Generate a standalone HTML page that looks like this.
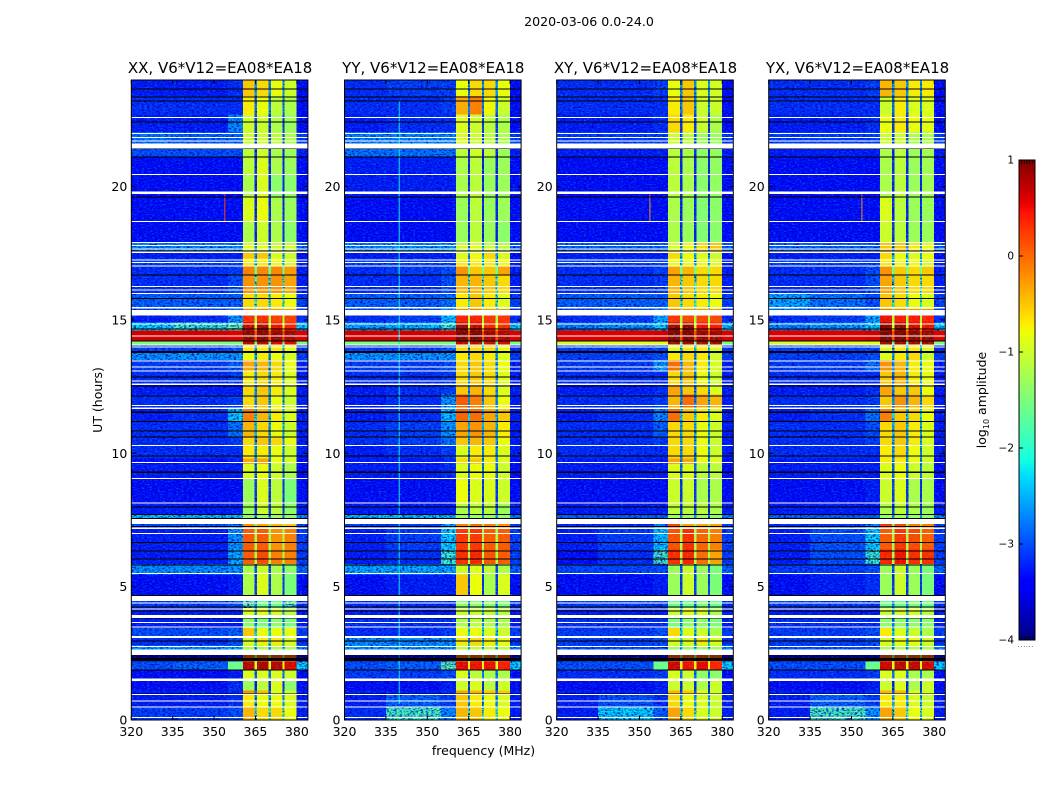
<!DOCTYPE html>
<html lang="en">
<head>
<meta charset="utf-8">
<title>2020-03-06 0.0-24.0 amplitude waterfall</title>
<style>
html,body{margin:0;padding:0;background:#fff;}
svg{display:block;}
text{font-family:"DejaVu Sans","Liberation Sans",sans-serif;fill:#000;}
</style>
</head>
<body>
<svg id="figure" xmlns="http://www.w3.org/2000/svg" width="1050" height="800" viewBox="0 0 1050 800">
<defs>
<filter id="speckle-dark" x="0" y="0" width="100%" height="100%" color-interpolation-filters="sRGB">
<feTurbulence type="fractalNoise" baseFrequency="0.38 0.7" numOctaves="2" seed="4"/>
<feColorMatrix type="matrix" values="0 0 0 0 0  0 0 0 0 0  0 0 0 0 0.75  3 0 0 0 -1.3"/>
</filter>
<filter id="speckle-light" x="0" y="0" width="100%" height="100%" color-interpolation-filters="sRGB">
<feTurbulence type="fractalNoise" baseFrequency="0.38 0.7" numOctaves="2" seed="11"/>
<feColorMatrix type="matrix" values="0 0 0 0 0  0 0 0 0 0.6  0 0 0 0 1  2.6 0 0 0 -1.25"/>
</filter>
<filter id="speckle-warm" x="0" y="0" width="100%" height="100%" color-interpolation-filters="sRGB">
<feTurbulence type="fractalNoise" baseFrequency="0.38 0.7" numOctaves="2" seed="23"/>
<feColorMatrix type="matrix" values="0 0 0 0 0.5  0 0 0 0 0.95  0 0 0 0 0.25  2.6 0 0 0 -1.25"/>
</filter>
</defs>
</svg>
<script>
// ---- chart data (log10 amplitude) ----
const panelNames = ["XX", "YY", "XY", "YX"];
const baselineLabel = "V6*V12=EA08*EA18";
const freqTicks = [320, 335, 350, 365, 380];
const hourTicks = [0, 5, 10, 15, 20];
const colorbarTicks = [1, 0, -1, -2, -3, -4];

// lower edge (hours) of each time band
const bandStarts = [0,.5,1,1.1,1.55,1.9,2.2,2.65,2.8,3.15,3.45,3.8,4.2,4.65,5.45,5.85,6.4,7.2,7.55,7.7,8.1,9.06,9.6,9.8,10.3,10.6,11.2,11.7,12.2,12.6,13.1,13.5,13.8,14.05,14.2,14.6,14.9,15.4,16,16.7,17,17.3,17.55,17.9,18.7,19.6,20.5,21.1,21.6,22.05,22.7,23.4];
// frequency edges (MHz) of the channel groups
const channelEdges = [320,335,355,360.4,364.7,365.5,369.8,370.6,374.8,375.6,379.9,384];

// per band: low-band, mid-band, band-edge, sub-band 1..4
const levelsXX = [
[-2.8,-2.8,-2.7,-.4,-.6,-.6,-.8],[-3,-3,-2.9,-.7,-.8,-.8,-.9],[-3,-3,-2.9,-.2,-.4,-.9,-1],[-3.1,-3.1,-2.9,-1.3,-1.1,-.9,-1.4],
[-3.1,-3.1,-3,-.9,-.9,-.9,-1],[-2.7,-2.6,-1.6,.75,.8,.75,.6],[-3.3,-3.3,-3,.1,.1,.1,.1],[-2.3,-2.3,-2.2,-1.2,-1.2,-1.2,-1.2],
[-2.9,-2.9,-2.7,-.9,-.7,-.7,-.9],[-2.7,-2.7,-2.6,-.5,-.8,-.8,-.8],[-3,-3,-3,-1.4,-1.5,-1.4,-1.5],[-3,-3,-3,-.9,-.8,-.9,-1.1],
[-2.8,-2.8,-2.7,-1.7,-1.6,-1.6,-1.7],[-3.1,-3.1,-3,-1.2,-.9,-1.2,-1.5],[-2.35,-2.35,-2.3,-1.2,-1,-1.2,-1.4],[-3,-3,-2.2,.1,.2,-.1,-.1],
[-3,-3,-2.3,.1,.1,-.2,-.1],[-2.7,-2.7,-2.4,-.2,-.3,-.4,-.5],[-2.1,-2.1,-2.1,-1.4,-1.3,-1.3,-1.4],[-3,-3,-3,-1.3,-1,-1.1,-1.4],
[-3.1,-3.1,-3.1,-1.3,-.9,-1.1,-1.5],[-3,-3,-3,-.9,-.8,-1,-1.2],[-3.1,-3.1,-3,-.3,-.3,-.8,-1],[-2.9,-2.9,-2.9,-.7,-.7,-.8,-1],
[-2.9,-2.9,-2.8,-.6,-.5,-.6,-.8],[-2.9,-2.9,-2.5,-.4,-.6,-.8,-1],[-3,-2.9,-2,-.1,-.4,-.7,-.9],[-2.9,-2.9,-2.8,-.6,-.5,-.8,-1],
[-3,-3,-3,-.6,-.5,-.7,-.9],[-2.9,-2.9,-2.8,-.7,-.6,-.7,-.9],[-2.8,-2.8,-2.6,-.3,-.4,-.6,-.8],[-2.35,-2.3,-2.3,-.8,-.7,-.8,-.9],
[-2.8,-2.8,-2.6,-.7,-.7,-.7,-.8],[-1.5,-1.5,-1.5,.7,.7,.6,.6],[.65,.65,.6,.95,.95,.9,.85],[-2,-1.9,-1.7,.7,.8,.5,.4],
[-3,-2.9,-2.3,.35,.35,.25,.25],[-2.6,-2.6,-2.6,-.6,-.6,-.7,-.8],[-2.9,-2.9,-2.7,-.2,-.2,-.2,-.3],[-2.9,-2.9,-2.8,-.1,-.15,-.15,-.25],
[-2.8,-2.8,-2.8,-.7,-.7,-.8,-.9],[-3,-3,-3,-.5,-.5,-.9,-1],[-2.4,-2.4,-2.4,-.9,-.9,-1,-1],[-3.1,-3.1,-3.1,-1.2,-1,-1.2,-1.4],
[-3.1,-3.1,-3.1,-.9,-.8,-1.2,-1.3],[-3.1,-3.1,-3.1,-1.2,-.9,-1.4,-1.4],[-3.1,-3.1,-3.1,-1.1,-.9,-1.2,-1.3],[-2.7,-2.7,-2.7,-1.1,-1,-1.2,-1.3],
[-2.5,-2.6,-2.6,-1,-1,-1.1,-1.2],[-3,-3,-2.4,-1,-1,-1.2,-1.3],[-2.9,-2.9,-2.9,-.7,-.8,-1.1,-1.2],[-3,-3,-2.9,-.5,-.6,-.8,-1]];

const levelsYY = [
[-2.9,-1.8,-2.4,-.4,-.5,-.7,-.8],[-3,-2.6,-2.8,-.5,-.7,-.8,-.9],[-3,-3,-2.9,-.3,-.4,-.5,-.5],[-3.1,-3.1,-3,-1,-.9,-1.1,-1],
[-2.8,-2.8,-2.7,-.9,-1.1,-1.2,-1.2],[-2.7,-2.6,-1.7,.55,.5,.5,.45],[-3.3,-3.3,-3.3,.1,.1,.1,.1],[-2.3,-2.3,-2.3,-1.1,-1.1,-1.1,-1.1],
[-2.35,-2.35,-2.3,-.7,-.6,-.7,-.8],[-2.9,-2.9,-2.8,-.8,-.8,-.9,-1],[-2.9,-2.9,-2.9,-1.2,-1.1,-1.2,-1.2],[-3,-3,-3,-1,-1,-1,-1.1],
[-2.9,-2.9,-2.9,-1.4,-1.4,-1.4,-1.5],[-3.1,-3,-3,-.5,-.8,-1.2,-.9],[-2.2,-2.2,-2.2,-1,-.9,-1.1,-1.2],[-3,-2.9,-1.9,.35,.4,.15,.1],
[-3,-2.8,-2,.3,.3,.1,.1],[-2.8,-2.8,-2.2,-.1,0,-.1,-.2],[-2.1,-2.1,-2.1,-1.3,-1.3,-1.3,-1.4],[-3,-3,-3,-1.2,-1.1,-1.1,-1.3],
[-3.1,-3.1,-3.1,-.8,-.9,-.9,-1],[-3,-3,-2.9,-.9,-.8,-.8,-1],[-3,-3,-2.9,-.6,-.5,-.7,-.9],[-3,-2.9,-2.8,-.9,-.7,-.7,-.9],
[-2.9,-2.8,-2.5,-.5,-.4,-.5,-.8],[-2.9,-2.8,-2.3,-.3,-.2,-.4,-.7],[-3,-2.9,-2.1,.05,0,-.3,-.5],[-3,-2.9,-2.3,.1,-.1,-.5,-.8],
[-3,-2.9,-2.8,-.5,-.4,-.6,-.9],[-2.9,-2.9,-2.8,-.6,-.5,-.6,-.9],[-2.8,-2.8,-2.7,-.6,-.5,-.6,-.8],[-2.3,-2.3,-2.3,-.7,-.6,-.7,-.9],
[-2.8,-2.8,-2.6,-.6,-.6,-.6,-.8],[-1.5,-1.5,-1.5,.7,.7,.6,.6],[.65,.65,.6,1,1,.85,.8],[-2.2,-2.1,-1.9,.85,.7,.4,.35],
[-2.9,-2.8,-2.1,.4,.4,.3,.3],[-2.6,-2.6,-2.5,-.7,-.5,-.7,-.9],[-2.9,-2.9,-2.7,-.4,-.4,-.5,-.6],[-2.9,-2.8,-2.7,-.2,-.5,-.5,-.3],
[-2.8,-2.8,-2.8,-.7,-.7,-.7,-.8],[-3,-3,-3,-.9,-.8,-.6,-.9],[-2.4,-2.3,-2.3,-1,-.9,-1,-1.1],[-3.1,-3.1,-3.1,-1.3,-1.1,-1.3,-1.4],
[-3.1,-3.1,-3.1,-1.3,-1.1,-1.3,-1.3],[-3,-3,-3,-1.2,-1.1,-1.3,-1.3],[-3,-3,-3,-1.2,-1.1,-1.3,-1.3],[-2.5,-2.5,-2.5,-1.1,-1,-1.1,-1.3],
[-2.4,-2.4,-2.4,-.9,-1,-1.1,-1.2],[-3,-2.9,-2.9,-.9,-1,-1.1,-1.2],[-2.9,-2.9,-2.8,-.35,-.1,-.75,-1],[-2.9,-2.8,-2.8,-.8,-.6,-.6,-.8]];

const levelsXY = [
[-3,-2,-2.6,-.3,-.6,-.9,-1],[-3,-2.7,-2.9,-.6,-.8,-.9,-1],[-3,-3,-2.9,-.4,-.5,-.9,-1],[-3.1,-3.1,-3,-1,-1,-1.2,-1],
[-2.9,-2.9,-2.8,-.9,-1,-1.4,-1.4],[-2.7,-2.7,-1.6,.65,.5,.55,.4],[-3.3,-3.3,-3.3,.1,.1,.1,.1],[-2.7,-2.7,-2.7,-1.3,-1.3,-1.3,-1.3],
[-2.8,-2.8,-2.7,-.9,-.9,-.7,-.9],[-2.8,-2.8,-2.7,-.6,-.9,-1,-1.2],[-2.9,-2.9,-2.9,-1.5,-1.4,-1.4,-1.5],[-3,-3,-3,-1,-.8,-.9,-1.2],
[-2.8,-2.8,-2.8,-1.6,-1.6,-1.5,-1.6],[-3.1,-3.1,-3,-1.3,-1,-1.3,-1.5],[-2.75,-2.75,-2.7,-1.3,-1,-1.3,-1.5],[-3.1,-2.9,-1.8,.35,.4,0,-.3],
[-3,-2.8,-2.1,.15,.35,.05,-.1],[-2.9,-2.9,-2.4,.2,-.3,-.3,-.3],[-2.6,-2.6,-2.6,-1.3,-1.3,-1.3,-1.4],[-3,-3,-3,-1.1,-1.1,-1.1,-1.2],
[-3.1,-3.1,-3.1,-1,-1,-1.2,-1.2],[-3,-3,-3,-.9,-.9,-1.1,-1.1],[-3,-3,-3,-.3,-.3,-.8,-.9],[-2.9,-2.9,-2.9,-.6,-.6,-.8,-1],
[-2.9,-2.9,-2.8,-.6,-.6,-.8,-1],[-2.9,-2.9,-2.6,-.6,-.6,-.8,-1],[-3,-2.9,-2.4,0,-.5,-.7,-.9],[-2.9,-2.9,-2.8,-.4,0,-.3,-.4],
[-3,-3,-2.9,-.3,-.5,-.6,-.9],[-2.9,-2.9,-2.9,-.6,-.5,-.8,-1],[-2.8,-2.8,-2.3,0,-.4,-.7,-.9],[-2.8,-2.8,-2.7,-.7,-.6,-.7,-1],
[-2.8,-2.8,-2.7,-.9,-.7,-.7,-.9],[-1,-.9,-.9,.8,.8,.8,.8],[.6,.6,.65,1,1,.9,.85],[-2.4,-2.3,-2,.85,.9,.5,.45],
[-2.9,-2.8,-2.2,.3,.2,.2,.2],[-2.6,-2.6,-2.6,-.5,-.6,-.7,-.8],[-2.9,-2.9,-2.8,-.4,-.5,-.6,-.6],[-2.9,-2.9,-2.8,-.3,-.4,-.6,-.6],
[-2.8,-2.8,-2.8,-.8,-.8,-.8,-.9],[-3,-3,-3,-.6,-.8,-.9,-1],[-2.6,-2.6,-2.6,-.9,-.8,-.6,-.5],[-3.1,-3.1,-3.1,-1.2,-1.3,-1.45,-1.4],
[-3.1,-3.1,-3.1,-1.2,-1.3,-1.45,-1.4],[-3.1,-3.1,-3.1,-1.1,-1.2,-1.4,-1.35],[-3.1,-3.1,-3.1,-1.1,-1.2,-1.4,-1.35],[-3,-3,-3,-1.1,-1.2,-1.4,-1.35],
[-2.8,-2.8,-2.8,-1,-1.1,-1.3,-1.3],[-3,-3,-2.9,-.6,-.7,-1,-1.2],[-2.9,-2.9,-2.9,-.7,-.5,-1,-1],[-2.9,-2.9,-2.8,-.8,-.5,-.9,-.95]];

const levelsYX = [
[-3,-1.8,-2.3,-.3,-.5,-.8,-.9],[-3,-2.6,-2.8,-.7,-.7,-.9,-1],[-3,-3,-2.9,-.4,-.4,-.9,-1],[-3.1,-3.1,-3,-1,-.9,-1.2,-1],
[-2.9,-2.9,-2.8,-.9,-.9,-1.2,-1.2],[-2.7,-2.7,-1.6,.65,.7,.7,.65],[-3.3,-3.3,-3.3,.1,.1,.1,.1],[-2.7,-2.7,-2.7,-1.2,-1.2,-1.2,-1.2],
[-2.8,-2.8,-2.7,-.9,-.8,-.8,-1],[-2.8,-2.8,-2.7,-.7,-.9,-1,-1.2],[-2.9,-2.9,-2.9,-1.4,-1.4,-1.4,-1.4],[-3,-3,-3,-1,-.9,-.9,-1.1],
[-2.8,-2.8,-2.8,-1.6,-1.6,-1.5,-1.6],[-3.1,-3,-2.9,-1.3,-1,-1.3,-1.5],[-2.8,-2.8,-2.7,-1.3,-1,-1.3,-1.5],[-3,-2.7,-1.9,.4,.5,.35,.35],
[-3,-2.7,-2,.1,.3,.2,.1],[-2.9,-2.8,-2.4,.3,.2,-.1,-.1],[-2.6,-2.6,-2.6,-1.3,-1.2,-1.3,-1.4],[-3,-3,-3,-1.2,-1.1,-1.2,-1.3],
[-3.1,-3.1,-3,-1,-.9,-1.2,-1.2],[-3,-3,-3,-.9,-.8,-1,-1.1],[-3,-3,-3,-.7,-.7,-.8,-1],[-2.9,-2.9,-2.9,-.7,-.6,-.8,-1],
[-2.9,-2.9,-2.8,-.6,-.5,-.7,-.9],[-2.9,-2.9,-2.7,-.6,-.5,-.7,-.9],[-3,-2.9,-2.5,-.1,-.5,-.6,-.8],[-2.9,-2.9,-2.8,-.5,-.2,-.4,-.6],
[-3,-3,-2.9,-.3,-.5,-.5,-.8],[-2.9,-2.9,-2.9,-.5,-.4,-.7,-.8],[-2.8,-2.8,-2.5,-.2,-.4,-.7,-.8],[-2.8,-2.8,-2.7,-.9,-.7,-.6,-1],
[-2.8,-2.8,-2.7,-.9,-.7,-.7,-.9],[-1,-.9,-.9,.8,.8,.8,.8],[.6,.6,.65,1,1,.95,.9],[-2.4,-2.3,-2,.95,.9,.6,.5],
[-2.9,-2.8,-2.2,.5,.45,.45,.4],[-2.2,-2.5,-2.7,-.5,-.6,-.8,-.9],[-2.9,-2.9,-2.7,-.3,-.5,-.6,-.6],[-2.9,-2.9,-2.7,-.2,-.5,-.6,-.5],
[-2.8,-2.8,-2.8,-.7,-.8,-.8,-.9],[-3,-3,-3,-.6,-.8,-.9,-.8],[-2.6,-2.6,-2.6,-.5,-.5,-.7,-.8],[-3.1,-3.1,-3.1,-1,-1.1,-1.3,-1.3],
[-3.1,-3.1,-3.1,-.9,-1.1,-1.3,-1.3],[-3.1,-3.1,-3.1,-1.2,-1.1,-1.3,-1.25],[-3.1,-3.1,-3.1,-1.2,-1.1,-1.3,-1.25],[-3,-3,-3,-1.2,-1.1,-1.3,-1.25],
[-2.8,-2.8,-2.8,-1,-1,-1.2,-1.2],[-3,-3,-2.9,-.8,-.7,-.8,-.85],[-2.9,-2.9,-2.9,-1,-.7,-.9,-.9],[-2.9,-2.9,-2.8,-.4,-.5,-.7,-.7]];

const panelLevels = [levelsXX, levelsYY, levelsXY, levelsYX];

// shared per-band values for the gaps between sub-bands and the top of the band
const gapLevels = [-1.8,-2.3,-2.6,-3,-2.5,-.9,-1.3,-2.2,-2,-2,-2.5,-2,-2.4,-2.9,-2.7,-1.2,-1.2,-1.5,-2.3,-2.9,-2.9,-2.6,-2.4,-2.4,-2.3,-2.2,-2,-2.4,-2.4,-2.4,-2.2,-2.3,-2.2,-1.6,.2,-.9,-1.2,-1.9,-1.7,-1.6,-2,-2.2,-2.3,-3,-3,-3,-3,-3,-2.8,-2.9,-2.5,-2.3];
const tailLevels = [-3,-3,-3,-3.1,-3.1,-2,-3.3,-2.4,-2.9,-2.8,-3,-3,-2.9,-3.1,-2.6,-2.8,-2.8,-2.8,-2.4,-3,-3.1,-3.1,-3.1,-3,-3,-3,-3,-3,-3,-3,-3,-2.8,-2.9,-1.5,.6,-2,-2.9,-2.8,-3,-3,-3,-3.1,-2.6,-3.1,-3.1,-3.1,-3.1,-3,-2.8,-3.1,-3.1,-3.1];
// low-amplitude readings sit this far below the tabulated level
const coldOffset = -0.25;
const coldThreshold = -1.9;

// flagged integrations: [start hour, span hours]
const flaggedRows = [[.07,.04],[.46,.04],[.7,.04],[.93,.04],[1.47,.08],[2.43,.22],[2.73,.04],[3.08,.07],[3.46,.04],[3.63,.04],[3.82,.12],[4.14,.04],[4.37,.04],[4.46,.19],[5.48,.04],[6.98,.04],[7.17,.04],[7.35,.18],[8.11,.04],[9.04,.04],[9.64,.04],[10.27,.04],[11.67,.04],[11.77,.04],[12.57,.04],[12.7,.04],[13.07,.04],[13.22,.04],[13.45,.04],[13.96,.04],[14.04,.04],[14.38,.04],[14.83,.04],[15.16,.21],[15.44,.04],[15.98,.04],[16.11,.04],[16.23,.04],[17.01,.04],[17.14,.04],[17.23,.04],[17.52,.04],[17.65,.04],[17.78,.04],[17.88,.04],[18.68,.04],[19.73,.08],[20.44,.04],[21.43,.18],[21.69,.04],[21.83,.04],[21.98,.04],[22.58,.04]];
// zero-amplitude integrations: [start hour, span hours]
const blankRows = [[.96,.04],[1.85,.04],[2.22,.13],[2.38,.04],[2.95,.04],[3.81,.04],[4.07,.04],[4.22,.04],[4.65,.04],[5.79,.04],[6.01,.04],[6.32,.04],[6.64,.04],[7.23,.04],[7.54,.04],[7.68,.04],[7.96,.04],[9.27,.04],[9.88,.04],[10.6,.04],[10.81,.04],[11.17,.04],[11.52,.04],[12.13,.04],[12.5,.04],[12.85,.04],[13.77,.06],[14.19,.04],[14.65,.04],[15.79,.04],[16.66,.04],[17.57,.04],[19.6,.04],[21.1,.04],[21.41,.04],[22.4,.04],[23.19,.04],[23.35,.04],[23.65,.04]];

// narrow interference: panel index, MHz, start hour, span hours, level
const rfiPanel = [0,2,3,1];
const rfiFreq = [353.6,353.5,353.5,339.6];
const rfiStart = [18.7,18.7,18.7,.6];
const rfiSpan = [1,1,1,22.6];
const rfiLevel = [.2,-.2,-.2,-2.2];

// ---- axis functions ----
const svg = document.getElementById('figure');
const NS = 'http://www.w3.org/2000/svg';
const panelLeft = [131.3, 344.5, 556.7, 768.7];
const plotTop = 80, plotBottom = 720, plotWidth = 176.6;
const fx = (mhz, left) => left + (mhz - 320) / 64 * plotWidth;
const hy = h => plotBottom - h / 24 * (plotBottom - plotTop);
const cbTop = 160, cbBottom = 640, cbLeft = 1019, cbRight = 1035;
const cy = v => cbBottom - (v + 4) / 5 * (cbBottom - cbTop);

function jet(v) {
  const f = Math.max(0, Math.min(1, (v + 4) / 5));
  const ramp = (pts) => {
    for (let i = 1; i < pts.length; i++) {
      if (f <= pts[i][0]) {
        const a = pts[i - 1], b = pts[i];
        return a[1] + (b[1] - a[1]) * (f - a[0]) / (b[0] - a[0]);
      }
    }
    return pts[pts.length - 1][1];
  };
  const r = ramp([[0,0],[.35,0],[.66,1],[.89,1],[1,.5]]);
  const g = ramp([[0,0],[.125,0],[.375,1],[.64,1],[.91,0],[1,0]]);
  const b = ramp([[0,.5],[.11,1],[.34,1],[.65,0],[1,0]]);
  return 'rgb(' + Math.round(r * 255) + ',' + Math.round(g * 255) + ',' + Math.round(b * 255) + ')';
}

function make(tag, attrs, parent) {
  const el = document.createElementNS(NS, tag);
  for (const k in attrs) el.setAttribute(k, attrs[k]);
  (parent || svg).appendChild(el);
  return el;
}

function bandEnd(i) {
  return i + 1 < bandStarts.length ? bandStarts[i + 1] : 24;
}

// level of column c (0..10) in band i of a panel
function cellLevel(table, i, c) {
  const row = table[i];
  const map = [row[0], row[1], row[2], row[3], gapLevels[i], row[4], gapLevels[i], row[5], gapLevels[i], row[6], tailLevels[i]];
  const v = map[c];
  return v < coldThreshold ? v + coldOffset : v;
}

function drawRow(group, spans, left, color, name) {
  spans.forEach(function (s) {
    const r = make('rect', {x: left, y: hy(s[0] + s[1]), width: plotWidth, height: Math.max(1, hy(s[0]) - hy(s[0] + s[1])), fill: color, 'shape-rendering': 'crispEdges'}, group);
    
    
  });
}

panelNames.forEach(function (pol, p) {
  const left = panelLeft[p];
  const table = panelLevels[p];

  const panel = make('g', {});
  
  

  const heat = make('g', {}, panel);
  
  

  const hot = [];
  bandStarts.forEach(function (start, i) {
    for (let c = 0; c < channelEdges.length - 1; c++) {
      const v = cellLevel(table, i, c);
      const attrs = {
        x: fx(channelEdges[c], left),
        y: hy(bandEnd(i)),
        width: fx(channelEdges[c + 1], left) - fx(channelEdges[c], left),
        height: hy(start) - hy(bandEnd(i)),
        fill: jet(v),
        'shape-rendering': 'crispEdges'
      };
      if (v > -1.7) { hot.push(attrs); continue; }
      const cell = make('rect', attrs, heat);
      
      
    }
  });

  const noiseA = make('rect', {x: left, y: plotTop, width: plotWidth, height: plotBottom - plotTop, filter: 'url(#speckle-dark)'}, panel);
  
  
  const noiseB = make('rect', {x: left, y: plotTop, width: plotWidth, height: plotBottom - plotTop, filter: 'url(#speckle-light)', opacity: 0.55}, panel);
  
  

  hot.forEach(function (attrs) {
    const cell = make('rect', attrs, panel);
    
    
  });

  const noiseC = make('rect', {x: fx(360.4, left), y: plotTop, width: fx(379.9, left) - fx(360.4, left), height: plotBottom - plotTop, filter: 'url(#speckle-warm)', opacity: 0.3}, panel);
  
  

  rfiPanel.forEach(function (pi, k) {
    if (pi !== p) return;
    const mark = make('rect', {x: fx(rfiFreq[k], left), y: hy(rfiStart[k] + rfiSpan[k]), width: 1.4, height: hy(rfiStart[k]) - hy(rfiStart[k] + rfiSpan[k]), fill: jet(rfiLevel[k]), opacity: 0.7}, panel);
    
    
  });

  drawRow(panel, blankRows, left, '#000', 'blank-integration');
  drawRow(panel, flaggedRows, left, '#fff', 'flagged-integration');

  const frame = make('rect', {x: left, y: plotTop, width: plotWidth, height: plotBottom - plotTop, fill: 'none', stroke: '#000', 'stroke-width': 1}, panel);
  
  

  freqTicks.forEach(function (t) {
    const x = fx(t, left);
    const tb = make('line', {x1: x, x2: x, y1: plotBottom, y2: plotBottom - 4, stroke: '#000', 'stroke-width': 1}, panel);
    
    
    const tt = make('line', {x1: x, x2: x, y1: plotTop, y2: plotTop + 4, stroke: '#000', 'stroke-width': 1}, panel);
    
    
    const lab = make('text', {x: x, y: 736, 'font-size': 12.5, 'text-anchor': 'middle'}, panel);
    lab.textContent = String(t);
    
    
  });

  hourTicks.forEach(function (t) {
    const y = hy(t);
    const tl = make('line', {x1: left, x2: left + 4, y1: y, y2: y, stroke: '#000', 'stroke-width': 1}, panel);
    
    
    const tr = make('line', {x1: left + plotWidth, x2: left + plotWidth - 4, y1: y, y2: y, stroke: '#000', 'stroke-width': 1}, panel);
    
    
    const lab = make('text', {x: left - 4, y: y + 4.5, 'font-size': 12.5, 'text-anchor': 'end'}, panel);
    lab.textContent = String(t);
    
    
  });

  const title = make('text', {x: left + plotWidth / 2 + 0.5, y: 73, 'font-size': 15, 'text-anchor': 'middle'}, panel);
  title.textContent = pol + ', ' + baselineLabel;
  
  
});

// figure labels
const suptitle = make('text', {x: 589, y: 26, 'font-size': 12.6, 'text-anchor': 'middle'});
suptitle.textContent = '2020-03-06 0.0-24.0';



const xTitle = make('text', {x: 483.5, y: 755, 'font-size': 12.5, 'text-anchor': 'middle'});
xTitle.textContent = 'frequency (MHz)';



const yTitle = make('text', {x: 0, y: 0, 'font-size': 12.5, 'text-anchor': 'middle', transform: 'translate(102,400) rotate(-90)'});
yTitle.textContent = 'UT (hours)';



// colorbar
const cbGroup = make('g', {});


for (let y = cbTop; y < cbBottom; y += 2) {
  const v = (cbBottom - y - 1) / (cbBottom - cbTop) * 5 - 4;
  const strip = make('rect', {x: cbLeft, y: y, width: cbRight - cbLeft, height: 2, fill: jet(v), 'shape-rendering': 'crispEdges'}, cbGroup);
  
  
}
const cbFrame = make('rect', {x: cbLeft, y: cbTop, width: cbRight - cbLeft, height: cbBottom - cbTop, fill: 'none', stroke: '#000', 'stroke-width': 1}, cbGroup);


for (let i = 1; i < 6; i++) {
  const x = cbLeft + i * (cbRight - cbLeft) / 6;
  const a = make('line', {x1: x, x2: x, y1: cbTop, y2: cbTop + 4, stroke: '#000', 'stroke-width': 0.8}, cbGroup);
  
  
  const b = make('line', {x1: x, x2: x, y1: cbBottom, y2: cbBottom - 4, stroke: '#000', 'stroke-width': 0.8}, cbGroup);
  
  
}
colorbarTicks.forEach(function (t) {
  const lab = make('text', {x: cbLeft - 5, y: cy(t) + 3.5, 'font-size': 10.5, 'text-anchor': 'end'}, cbGroup);
  lab.textContent = t < 0 ? '\u2212' + Math.abs(t) : String(t);
  
  
  const tick = make('line', {x1: cbLeft, x2: cbLeft + 4, y1: cy(t), y2: cy(t), stroke: '#000', 'stroke-width': 1}, cbGroup);
  
  
});
const cbDots = make('text', {x: 1026, y: 647, 'font-size': 6, fill: '#777', 'text-anchor': 'middle', 'letter-spacing': '0.9'}, cbGroup);
cbDots.textContent = '......';



const cbTitle = make('text', {x: 0, y: 0, 'font-size': 12.5, 'text-anchor': 'middle', transform: 'translate(986,400) rotate(-90)'}, cbGroup);


const t1 = make('tspan', {}, cbTitle); t1.textContent = 'log';
const t2 = make('tspan', {dy: 3, 'font-size': 8}, cbTitle); t2.textContent = '10';
const t3 = make('tspan', {dy: -3}, cbTitle); t3.textContent = ' amplitude';
</script>
</body>
</html>
